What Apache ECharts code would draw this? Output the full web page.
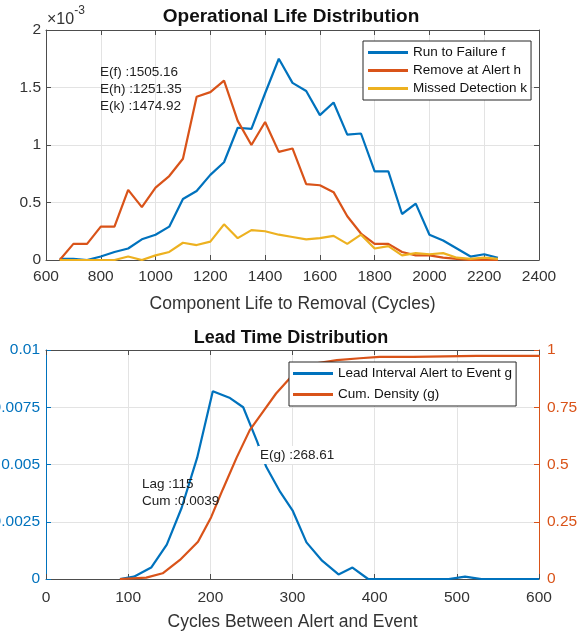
<!DOCTYPE html>
<html>
<head>
<meta charset="utf-8">
<script src="https://cdn.jsdelivr.net/npm/echarts@6/dist/echarts.min.js"></script>
<style>
html,body{margin:0;padding:0;background:#fff;}
#c{width:582px;height:634px;}
</style>
</head>
<body>
<div id="c"></div>
<script>
// ---- Top chart data (values in units of 1e-3) ----
var lifeCycles = [650,700,750,800,850,900,950,1000,1050,1100,1150,1200,1250,1300,1350,1400,1450,1500,1550,1600,1650,1700,1750,1800,1850,1900,1950,2000,2050,2100,2150,2200,2250];
var runToFailure = [0.01,0.01,0.0,0.03,0.07,0.10,0.18,0.22,0.29,0.53,0.60,0.74,0.85,1.15,1.14,1.45,1.75,1.54,1.47,1.26,1.37,1.09,1.10,0.77,0.77,0.40,0.49,0.22,0.17,0.10,0.03,0.05,0.02];
var removeAtAlert = [0.0,0.14,0.14,0.29,0.29,0.61,0.46,0.63,0.73,0.88,1.42,1.46,1.56,1.21,1.00,1.20,0.94,0.97,0.66,0.65,0.59,0.38,0.23,0.14,0.14,0.07,0.04,0.04,0.02,0.01,0.0,0.0,0.0];
var missedDetection = [0,0,0,0,0,0.03,0,0.04,0.07,0.15,0.13,0.16,0.31,0.19,0.26,0.25,0.22,0.20,0.18,0.19,0.21,0.14,0.22,0.10,0.12,0.04,0.06,0.05,0.06,0.02,0.01,0.02,0.01];
var topSeriesNames = ['Run to Failure f','Remove at Alert h','Missed Detection k'];
var topNotes = ['E(f) :1505.16','E(h) :1251.35','E(k) :1474.92'];

// ---- Bottom chart data ----
var leadCycles = [90,107,128,147,165,184,203,224,240,257,268,285,300,317,336,356,373,392,410,450,490,500,510,520,530,600];
var leadDensity = [0,0.0001,0.0005,0.0015,0.0031,0.0053,0.0082,0.0079,0.0075,0.0060,0.0049,0.0038,0.0030,0.0016,0.0008,0.0002,0.0005,0,0,0,0,0.00005,0.0001,0.00005,0,0];
var cumCycles = [90,122,142,163,185,201,215,232,248,262,280,300,325,354,382,406,447,524,600];
var cumDensity = [0,0.006,0.025,0.083,0.163,0.27,0.39,0.53,0.65,0.72,0.81,0.89,0.94,0.956,0.964,0.97,0.97,0.974,0.974];
var bottomSeriesNames = ['Lead Interval Alert to Event g','Cum. Density (g)'];

var BLUE = '#0072BD', ORANGE = '#D95319', YELLOW = '#EDB120';
var AX = '#4d4d4d', GRID = '#e3e3e3', TXT = '#333333';
var FONT = 'Liberation Sans, Arial, Helvetica, sans-serif';

function pairs(xs, ys){ return xs.map(function(x,i){ return [x, ys[i]]; }); }
function plain(v){ return String(parseFloat(v.toFixed(4))); }

function lineSeries(name, xs, ys, color, xi, yi){
  return {name:name, type:'line', data:pairs(xs,ys), xAxisIndex:xi, yAxisIndex:yi,
    symbol:'none', lineStyle:{color:color, width:2.2}, itemStyle:{color:color}, z:3};
}
function mirror(o){ return Object.assign({axisLabel:{show:false}, splitLine:{show:false}}, o); }
function aline(c){ return {show:true, onZero:false, lineStyle:{color:c, width:1}}; }
function atick(c){ return {show:true, inside:true, length:5, lineStyle:{color:c}}; }

var chart = echarts.init(document.getElementById('c'), null, {renderer:'canvas'});
var option = {
  backgroundColor:'#fff',
  animation:false,
  textStyle:{fontFamily:FONT},
  title:[
    {text:'Operational Life Distribution', left:'center', top:2, textStyle:{fontSize:19, fontWeight:'bold', color:'#111', fontFamily:FONT}},
    {text:'Lead Time Distribution', left:'center', top:324, textStyle:{fontSize:18, fontWeight:'bold', color:'#111', fontFamily:FONT}}
  ],
  grid:[
    {left:46, right:43, top:30, height:230, containLabel:false, outerBoundsMode:'none'},
    {left:46, right:43, top:350, height:229, containLabel:false, outerBoundsMode:'none'}
  ],
  xAxis:[
    {type:'value', gridIndex:0, min:600, max:2400, interval:200, position:'bottom',
     name:'Component Life to Removal (Cycles)', nameLocation:'middle', nameGap:35,
     nameTextStyle:{fontSize:17.5, color:TXT, fontFamily:FONT},
     axisLine:aline(AX), axisTick:atick(AX),
     axisLabel:{fontSize:15.5, color:TXT, margin:9, fontFamily:FONT, formatter:plain},
     splitLine:{show:true, lineStyle:{color:GRID, width:1}}},
    mirror({type:'value', gridIndex:0, min:600, max:2400, interval:200, position:'top',
     axisLine:aline(AX), axisTick:atick(AX)}),
    {type:'value', gridIndex:1, min:0, max:600, interval:100, position:'bottom',
     name:'Cycles Between Alert and Event', nameLocation:'middle', nameGap:34,
     nameTextStyle:{fontSize:17.5, color:TXT, fontFamily:FONT},
     axisLine:aline(AX), axisTick:atick(AX),
     axisLabel:{fontSize:15.5, color:TXT, margin:11, fontFamily:FONT, formatter:plain},
     splitLine:{show:true, lineStyle:{color:GRID, width:1}}},
    mirror({type:'value', gridIndex:1, min:0, max:600, interval:100, position:'top',
     axisLine:aline(AX), axisTick:atick(AX)})
  ],
  yAxis:[
    {type:'value', gridIndex:0, min:0, max:2, interval:0.5, position:'left',
     axisLine:aline(AX), axisTick:atick(AX),
     axisLabel:{fontSize:15.5, color:TXT, margin:5, fontFamily:FONT, formatter:plain},
     splitLine:{show:true, lineStyle:{color:GRID, width:1}}},
    mirror({type:'value', gridIndex:0, min:0, max:2, interval:0.5, position:'right',
     axisLine:aline(AX), axisTick:atick(AX)}),
    {type:'value', gridIndex:1, min:0, max:0.01, interval:0.0025, position:'left',
     axisLine:aline(BLUE), axisTick:atick(BLUE),
     axisLabel:{fontSize:15.5, color:BLUE, margin:6, fontFamily:FONT, formatter:plain},
     splitLine:{show:true, lineStyle:{color:GRID, width:1}}},
    {type:'value', gridIndex:1, min:0, max:1, interval:0.25, position:'right',
     axisLine:aline(ORANGE), axisTick:atick(ORANGE),
     axisLabel:{fontSize:15.5, color:ORANGE, margin:8, fontFamily:FONT, formatter:plain},
     splitLine:{show:false}}
  ],
  legend:[
    {data:topSeriesNames, orient:'vertical', left:363, top:41, padding:[4,4,4,5],
     icon:'rect', itemWidth:40, itemHeight:3, itemGap:3, itemTextGap:3,
     backgroundColor:'#fff', borderColor:'#262626', borderWidth:1, borderRadius:0,
     textStyle:{fontSize:13.5, color:'#111', lineHeight:15, fontFamily:FONT}},
    {data:bottomSeriesNames, orient:'vertical', left:289, top:362, padding:[4,4,4,4],
     icon:'rect', itemWidth:40, itemHeight:3, itemGap:6, itemTextGap:3,
     backgroundColor:'#fff', borderColor:'#262626', borderWidth:1, borderRadius:0,
     textStyle:{fontSize:13.5, color:'#111', lineHeight:15, fontFamily:FONT}}
  ],
  series:[
    lineSeries(topSeriesNames[0], lifeCycles, runToFailure, BLUE, 0, 0),
    lineSeries(topSeriesNames[1], lifeCycles, removeAtAlert, ORANGE, 0, 0),
    lineSeries(topSeriesNames[2], lifeCycles, missedDetection, YELLOW, 0, 0),
    lineSeries(bottomSeriesNames[0], leadCycles, leadDensity, BLUE, 2, 2),
    lineSeries(bottomSeriesNames[1], cumCycles, cumDensity, ORANGE, 2, 3)
  ],
  graphic:[
    {type:'text', left:47, top:5, z:10, style:{rich:{a:{fontSize:16, fill:TXT, fontFamily:FONT, padding:[7,0,0,0]}, b:{fontSize:12, fill:TXT, fontFamily:FONT, verticalAlign:'top'}}, text:'{a|\u00d710}{b|-3}'}},
    {type:'text', left:100, top:64, z:10, style:{text:topNotes.join('\n'), fontSize:13.5, lineHeight:17, fill:'#222', fontFamily:FONT}},
    {type:'text', left:258, top:446, z:10, style:{text:'E(g) :268.61', fontSize:13.5, fill:'#222', fontFamily:FONT, backgroundColor:'#fff', padding:[2,2,2,2]}},
    {type:'text', left:142, top:476, z:10, style:{text:'Lag :115\nCum :0.0039', fontSize:13.5, lineHeight:17, fill:'#222', fontFamily:FONT}}
  ]
};
chart.setOption(option);
</script>
</body>
</html>
